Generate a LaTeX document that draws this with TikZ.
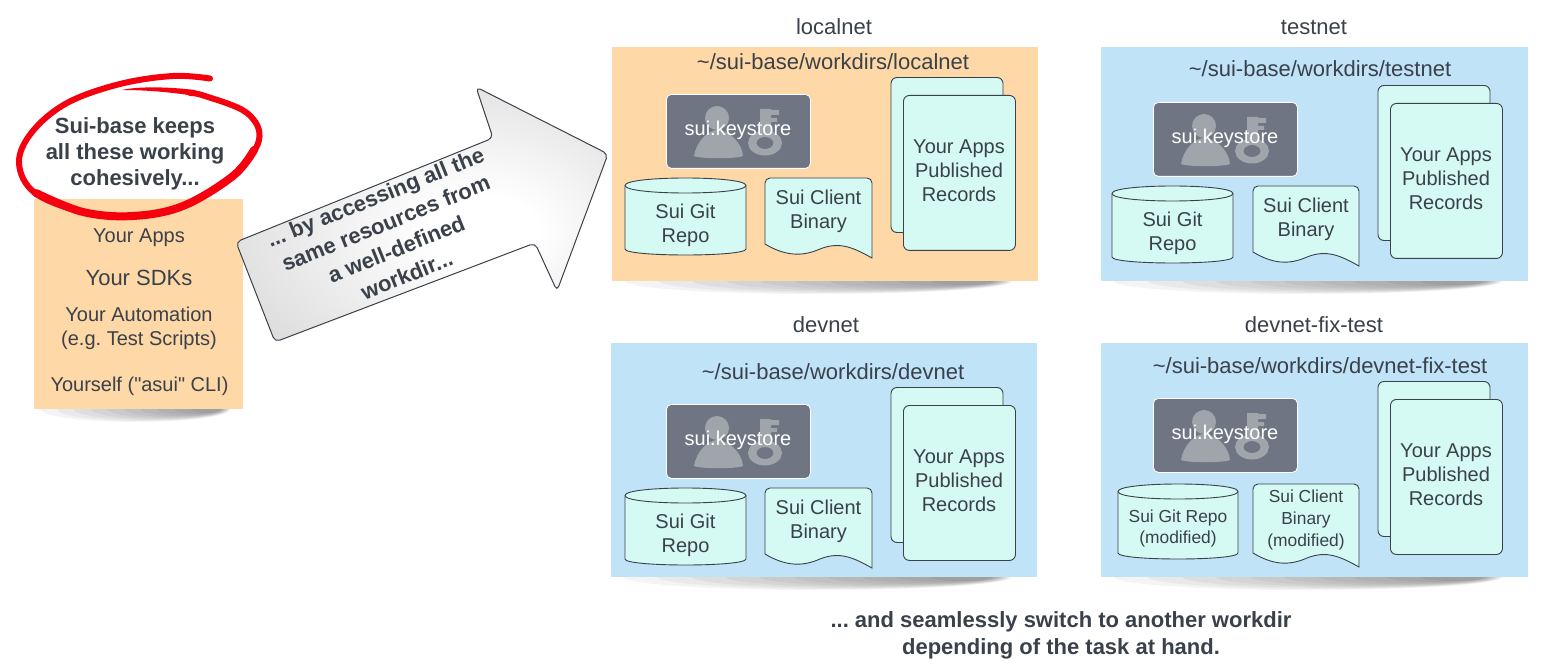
\documentclass[tikz,border=0pt]{standalone}
\usepackage{fontspec}
\setmainfont{Liberation Sans}
\newfontfamily\rawsans{Liberation Sans}
\usetikzlibrary{shapes.geometric}
\definecolor{ink}{HTML}{3A414A}
\definecolor{peach}{HTML}{FED8A6}
\definecolor{sky}{HTML}{C0E3F7}
\definecolor{mint}{HTML}{D5F9F3}
\definecolor{slatebox}{HTML}{6F7582}
\definecolor{iconc}{HTML}{A0A4AB}
\definecolor{redmark}{HTML}{F5000F}
\newcommand{\fs}[2]{\fontsize{#1}{#2}\selectfont\frenchspacing}
\pgfdeclareradialshading{arrowglow}{\pgfpoint{10bp}{-4bp}}{%
  color(0bp)=(white); color(7bp)=(white); color(32bp)=(black!13); color(50bp)=(black!16)}
\tikzset{
  label text/.style={text=ink,align=center,inner sep=0pt,font=\fs{20}{24},yshift=-2pt},
  small label/.style={text=ink,align=center,inner sep=0pt,font=\fs{17.4}{21.7},yshift=-2pt},
  title text/.style={text=ink,align=center,inner sep=0pt,font=\fs{22}{24}},
  strong text/.style={text=ink,align=center,inner sep=0pt,font=\bfseries\fs{22}{26}},
  part line/.style={draw=ink,line width=0.9pt,fill=mint},
}
% soft shadow under a box
\newcommand{\softshadow}[3]{% x1 x2 y
  \foreach \k in {0,1,...,9}{
    \pgfmathsetmacro{\la}{#1+(#2-#1)*(0.03+0.08*\k)}
    \pgfmathsetmacro{\lb}{#1+(#2-#1)*(0.94-0.005*\k)}
    \fill[black,opacity=0.042] ({(\la+\lb)/2},#3) ellipse ({(\lb-\la)/2} and {13-\k});
  }
}
\newcommand{\panelbox}[9]{% id x1 y1 x2 y2 colour text tx ty
  \softshadow{#2}{#4}{#5}
  \node[fill=#6,inner sep=0pt,minimum width=#4pt-#2pt,minimum height=#5pt-#3pt,anchor=north west] (#1) at (#2,#3) {};
  \node[title text] (#1path) at (#8,#9) {#7};
}
\newcommand{\keystorebox}[3]{% id x y
  \begin{scope}[shift={(#2,#3)}]
    \node[fill=slatebox,draw=white,line width=0.8pt,rounded corners=5pt,minimum width=144pt,minimum height=74pt,inner sep=0pt,anchor=north west] (#1) at (0,0) {};
    \fill[iconc] (51,24) ellipse (12 and 12);
    \fill[iconc] (28,62) .. controls (30,48) and (42,36) .. (51,36) .. controls (62,36) and (76,48) .. (77,62) .. controls (70,65) and (35,65) .. (28,62) -- cycle;
    \fill[iconc,even odd rule] (99,49) ellipse (17 and 12.5) (99,49) ellipse (8.5 and 6);
    \fill[iconc] (94,15) rectangle (105,38) (105,16) rectangle (113,21) (105,24) rectangle (111,28);
    \node[text=white,inner sep=0pt,font=\fs{20}{24}] (#1text) at (72,36) {sui.keystore};
  \end{scope}
}
\newcommand{\repocyl}[7][label text]{% style id x1 y1 x2 y2 text
  \path[part line] (#3,{#4+7.5}) .. controls (#3,{#4-2.5}) and (#5,{#4-2.5}) .. (#5,{#4+7.5})
    -- (#5,{#6-6}) .. controls (#5,{#6+2}) and (#3,{#6+2}) .. (#3,{#6-6}) -- cycle;
  \draw[draw=ink,line width=0.9pt] (#3,{#4+7.5}) .. controls (#3,{#4+17.5}) and (#5,{#4+17.5}) .. (#5,{#4+7.5});
  \node[#1] (#2) at ({(#3+#5)/2},{(#4+#6)/2+7}) {#7};
}
\newcommand{\docshape}[7][label text]{% style id x1 y1 x2 y2 text
  \path[part line] (#3,{#6-14}) [rounded corners=5pt] -- (#3,#4) -- (#5,#4) [sharp corners] -- (#5,#6)
    .. controls ({#5-18},{#6-10}) and ({#5-32},{#6-17}) .. ({#5-52},{#6-9})
    .. controls ({#5-70},{#6-1}) and ({#3+20},{#6-2}) .. (#3,{#6-14}) -- cycle;
  \node[#1] (#2) at ({(#3+#5)/2},{#4+31}) {#7};
}
\newcommand{\pagestack}[3]{% id x y (front page top left)
  \path[part line,rounded corners=6pt] ({#2-12},{#3-17.5}) rectangle ({#2+100},{#3+137.5});
  \node[part line,rounded corners=6pt,minimum width=112pt,minimum height=155pt,inner sep=0pt,anchor=north west] (#1) at (#2,#3) {};
  \node[label text] (#1text) at ({#2+56},{#3+73.5}) {Your Apps\\Published\\Records};
}
\begin{document}
\begin{tikzpicture}[x=1pt,y=-1pt]
\useasboundingbox (0,0) rectangle (1544,668);
\fill[white] (0,0) rectangle (1544,668);

% left stack
\softshadow{34}{243}{409}
\node[fill=peach,inner sep=0pt,minimum width=209pt,minimum height=210pt,anchor=north west] (stack) at (34,199) {};
\node[label text] (apps) at (139,236) {Your Apps};
\node[text=ink,inner sep=0pt,font=\fs{22}{24}] (sdks) at (139,278) {Your SDKs};
\node[label text] (auto) at (139,326) {Your Automation\\(e.g. Test Scripts)};
\node[label text] (self) at (139.5,384) {Yourself ({\rawsans\char34}asui{\rawsans\char34} CLI)};

% red hand drawn ring
\draw[redmark,line width=6pt,line cap=round,line join=round]
  plot[smooth,tension=0.6] coordinates {(210,78.5) (173,76) (120,84) (67,103) (32,132) (19,163) (35,193) (83,212) (133,216) (183,206) (233,176) (259,140) (247,113) (205,96) (190,93)};
\draw[redmark,line width=8pt,line cap=round,line join=round]
  plot[smooth,tension=0.6] coordinates {(36,193) (83,212) (133,216) (183,206) (233,176) (254,150)};
\fill[redmark] (195,90) .. controls (170,87) and (140,86) .. (122,90) .. controls (145,90) and (170,92) .. (195,96) -- cycle;
\node[strong text] (keeps) at (135,154) {Sui-base keeps\\all these working\\cohesively...};

% big arrow
\draw[draw=ink,line width=1pt,rounded corners=5pt,shading=arrowglow]
  (236,242) -- (493,138) -- (476,87) -- (608,154) -- (557,291) -- (535,243) -- (275,342) -- cycle;
\node[strong text,rotate=22,font=\bfseries\fs{22}{28}] (access) at (391,236) {... by accessing all the\\same resources from\\a well-defined\\workdir...};

% titles
\node[title text] (tlocal) at (834,27) {localnet};
\node[title text] (ttest) at (1314,27) {testnet};
\node[title text] (tdev) at (826,325) {devnet};
\node[title text] (tfix) at (1314,325) {devnet-fix-test};

% localnet
\panelbox{plocal}{612}{47}{1038}{281}{peach}{\textasciitilde/sui-base/workdirs/localnet}{833}{62}
\keystorebox{klocal}{666}{94}
\repocyl{rlocal}{625}{178}{746}{255}{Sui Git\\Repo}
\docshape{dlocal}{765}{178}{872}{258}{Sui Client\\Binary}
\pagestack{slocal}{903}{95}

% testnet
\panelbox{ptest}{1101}{47}{1528}{281}{sky}{\textasciitilde/sui-base/workdirs/testnet}{1320}{68.5}
\keystorebox{ktest}{1153}{102}
\repocyl{rtest}{1112}{186}{1233}{263}{Sui Git\\Repo}
\docshape{dtest}{1253}{186}{1359}{266}{Sui Client\\Binary}
\pagestack{stest}{1390}{103}

% devnet
\panelbox{pdev}{611}{343}{1037}{577}{sky}{\textasciitilde/sui-base/workdirs/devnet}{833}{371.5}
\keystorebox{kdev}{666}{404}
\repocyl{rdev}{625}{488}{746}{565}{Sui Git\\Repo}
\docshape{ddev}{765}{488}{872}{568}{Sui Client\\Binary}
\pagestack{sdev}{903}{405}

% devnet-fix-test
\panelbox{pfix}{1101}{343}{1528}{577}{sky}{\textasciitilde/sui-base/workdirs/devnet-fix-test}{1320}{365.5}
\keystorebox{kfix}{1153}{398}
\repocyl[small label,yshift=2pt]{rfix}{1118}{484}{1238}{559}{Sui Git Repo\\(modified)}
\docshape[small label,yshift=-3pt]{dfix}{1253}{484}{1359}{567}{Sui Client\\Binary\\(modified)}
\pagestack{sfix}{1390}{399}

\node[strong text,font=\bfseries\fs{22}{27}] (switch) at (1061,635.5) {... and seamlessly switch to another workdir\\depending of the task at hand.};
\end{tikzpicture}
\end{document}
